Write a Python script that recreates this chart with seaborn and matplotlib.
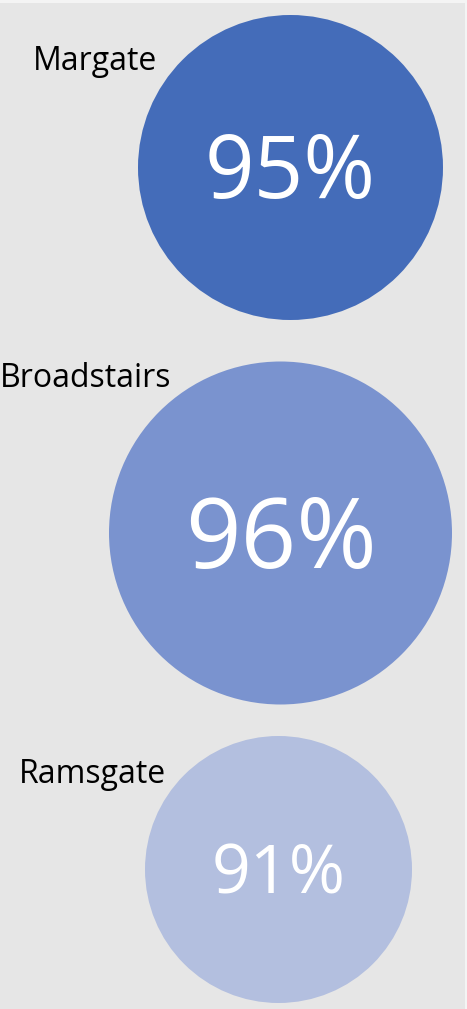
import matplotlib
matplotlib.use("Agg")
import matplotlib.pyplot as plt
import pandas as pd
import seaborn as sns

# Satisfaction by town
towns = ["Margate", "Broadstairs", "Ramsgate"]
satisfaction_pct = [95, 96, 91]

# Bubble layout (pixel units on a 467 x 1009 canvas)
bubble_x = [290.5, 280.5, 278.5]
bubble_y = [167.5, 533.0, 869.5]
bubble_radius = [152.5, 171.5, 133.5]
bubble_colors = ["#446cb9", "#7a93cf", "#b3bfdf"]
value_fontsize = [62.5, 70.0, 49.0]
label_x = [94.5, 85.5, 92.0]
label_baseline = [70.0, 387.0, 783.0]

W, H, DPI = 467, 1009, 100
BG = "#e6e6e6"
FONT = "Open Sans"
CAP = 0.714  # cap height as fraction of em

sns.set_theme(style="white")
plt.rcParams["font.family"] = [FONT, "DejaVu Sans"]

df = pd.DataFrame({
    "town": towns,
    "pct": satisfaction_pct,
    "x": bubble_x,
    "y": bubble_y,
    "r": bubble_radius,
})
# marker area in points^2 from pixel radius
df["s"] = (2 * df["r"] * 72 / DPI) ** 2

fig = plt.figure(figsize=(W / DPI, H / DPI), dpi=DPI)
fig.patch.set_facecolor("#f4f4f4")
ax = fig.add_axes([0, 0, 465 / W, 1006 / H])
ax.set_facecolor(BG)

sns.scatterplot(
    data=df, x="x", y="y", hue="town", palette=bubble_colors,
    s=df["s"].tolist(), linewidth=0, legend=False, ax=ax,
)

ax.set_xlim(0, 465)
ax.set_ylim(1009, 3)
ax.set_axis_off()
ax.add_patch(plt.Rectangle((0, 3), 465, 1006, color=BG, zorder=-5))

for i, row in df.iterrows():
    fs = value_fontsize[i]
    cap_px = fs / 0.72 * CAP
    ax.text(row["x"], row["y"] + cap_px / 2, f"{row['pct']}%",
            ha="center", va="baseline", color="white", fontsize=fs)
    ax.text(label_x[i], label_baseline[i], row["town"],
            ha="center", va="baseline", color="black", fontsize=23)

fig.savefig("out.png", dpi=DPI, facecolor=fig.get_facecolor())
